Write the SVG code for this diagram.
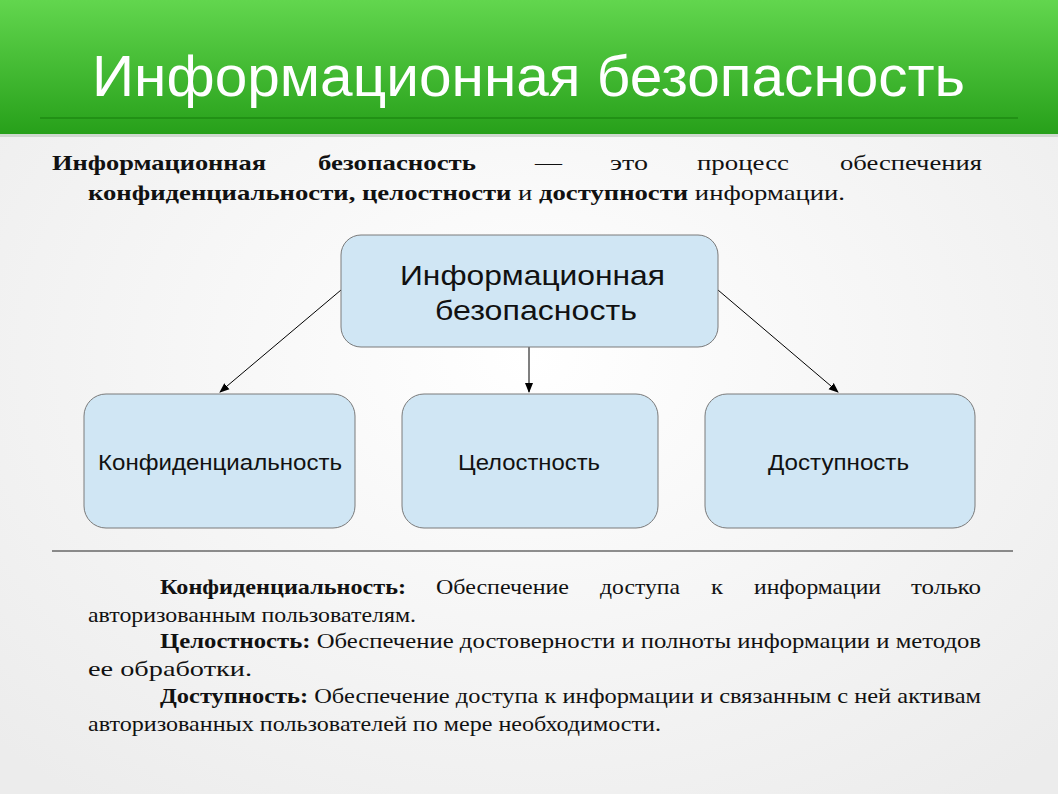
<svg xmlns="http://www.w3.org/2000/svg" width="1058" height="794" viewBox="0 0 1058 794">
<defs>
<linearGradient id="hdr" x1="0" y1="0" x2="0" y2="1"><stop offset="0" stop-color="#62d64e"/><stop offset="1" stop-color="#27a01a"/></linearGradient>
<radialGradient id="bg" cx="0.5" cy="0.45" r="0.7"><stop offset="0" stop-color="#ffffff"/><stop offset="1" stop-color="#ececec"/></radialGradient>
<marker id="ar" markerWidth="10" markerHeight="10" refX="9" refY="5" orient="auto" markerUnits="userSpaceOnUse"><path d="M0,1 L10,5 L0,9 z" fill="#000"/></marker>
</defs>
<style>
.box{fill:#d0e6f4;stroke:#7a7a7a;stroke-width:1}
.lbl{font-family:"Liberation Sans",Arial,sans-serif;font-size:22px;fill:#111}
.t{font-family:"Liberation Serif","Times New Roman",serif;font-size:22px;fill:#111}
.b{font-weight:bold}
.c{stroke:#000;stroke-width:1;fill:none;marker-end:url(#ar)}
</style>
<rect width="1058" height="794" fill="url(#bg)"/>
<rect x="0" y="0" width="1058" height="134" fill="url(#hdr)"/>
<rect x="0" y="134" width="1058" height="3" fill="#cfd8cf"/>
<line x1="40" y1="118" x2="1018" y2="118" stroke="#1e8a12" stroke-width="1.5"/>
<text x="92" y="96" textLength="873" lengthAdjust="spacingAndGlyphs" font-family="Liberation Sans,Arial,sans-serif" font-size="58" fill="#fff">Информационная безопасность</text>
<text class="t" y="170"><tspan class="b" x="52" textLength="214" lengthAdjust="spacingAndGlyphs">Информационная</tspan><tspan class="b" x="318" textLength="158" lengthAdjust="spacingAndGlyphs">безопасность</tspan><tspan x="535" textLength="27" lengthAdjust="spacingAndGlyphs">—</tspan><tspan x="610" textLength="38" lengthAdjust="spacingAndGlyphs">это</tspan><tspan x="697" textLength="92" lengthAdjust="spacingAndGlyphs">процесс</tspan><tspan x="840" textLength="142" lengthAdjust="spacingAndGlyphs">обеспечения</tspan></text>
<text class="t" x="88" y="200" textLength="757" lengthAdjust="spacingAndGlyphs"><tspan class="b">конфиденциальности, целостности</tspan> и <tspan class="b">доступности</tspan> информации.</text>
<g id="connectors">
<line class="c" x1="341" y1="290" x2="220" y2="392"/>
<line class="c" x1="529" y1="347" x2="529" y2="392"/>
<line class="c" x1="718" y1="290" x2="838" y2="392"/>
</g>
<g id="top"><rect class="box" x="341" y="235" width="377" height="112" rx="20"/><text class="lbl" style="font-size:28px" x="400" y="285" textLength="265" lengthAdjust="spacingAndGlyphs">Информационная</text><text class="lbl" style="font-size:28px" x="435" y="320" textLength="202" lengthAdjust="spacingAndGlyphs">безопасность</text></g>
<g id="conf"><rect class="box" x="84" y="394" width="271" height="134" rx="22"/><text class="lbl" x="98" y="470" textLength="244" lengthAdjust="spacingAndGlyphs">Конфиденциальность</text></g>
<g id="integ"><rect class="box" x="402" y="394" width="256" height="134" rx="22"/><text class="lbl" x="458" y="470" textLength="142" lengthAdjust="spacingAndGlyphs">Целостность</text></g>
<g id="avail"><rect class="box" x="705" y="394" width="270" height="134" rx="22"/><text class="lbl" x="768" y="470" textLength="141" lengthAdjust="spacingAndGlyphs">Доступность</text></g>
<line x1="52" y1="551" x2="1013" y2="551" stroke="#222" stroke-width="1"/>
<text class="t" y="594"><tspan class="b" x="160" textLength="246" lengthAdjust="spacingAndGlyphs">Конфиденциальность:</tspan><tspan x="436" textLength="133" lengthAdjust="spacingAndGlyphs">Обеспечение</tspan><tspan x="600" textLength="80" lengthAdjust="spacingAndGlyphs">доступа</tspan><tspan x="711" textLength="12" lengthAdjust="spacingAndGlyphs">к</tspan><tspan x="754" textLength="127" lengthAdjust="spacingAndGlyphs">информации</tspan><tspan x="911" textLength="70" lengthAdjust="spacingAndGlyphs">только</tspan></text>
<text class="t" x="88" y="622" textLength="328" lengthAdjust="spacingAndGlyphs">авторизованным пользователям.</text>
<text class="t" y="648" x="160" textLength="821" lengthAdjust="spacingAndGlyphs"><tspan class="b">Целостность:</tspan> Обеспечение достоверности и полноты информации и методов</text>
<text class="t" x="88" y="676" textLength="164" lengthAdjust="spacingAndGlyphs">ее обработки.</text>
<text class="t" y="703" x="160" textLength="821" lengthAdjust="spacingAndGlyphs"><tspan class="b">Доступность:</tspan> Обеспечение доступа к информации и связанным с ней активам</text>
<text class="t" x="88" y="731" textLength="573" lengthAdjust="spacingAndGlyphs">авторизованных пользователей по мере необходимости.</text>
</svg>
